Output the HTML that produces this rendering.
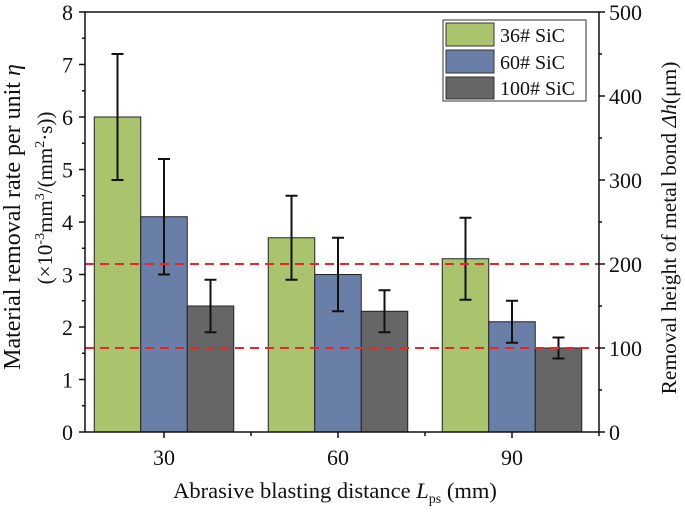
<!DOCTYPE html>
<html><head><meta charset="utf-8"><style>
body{margin:0;background:#fff}
svg text{font-family:"Liberation Serif",serif;fill:#111}
</style></head><body>
<svg id="c" width="685" height="508" xmlns="http://www.w3.org/2000/svg">
<g id="plot"></g>
<rect x="85" y="12" width="514" height="420" fill="none" stroke="#111" stroke-width="1.5"/>
<g>
<rect x="443" y="20" width="143" height="81" fill="#fff" stroke="#333" stroke-width="1"/>
<rect x="446" y="23" width="48" height="23" fill="#a9c46c" stroke="#333"/>
<text x="500" y="42" font-size="20">36# SiC</text>
<rect x="446" y="50" width="48" height="23" fill="#6a7fa8" stroke="#333"/>
<text x="500" y="69" font-size="20">60# SiC</text>
<rect x="446" y="77" width="48" height="22" fill="#666" stroke="#333"/>
<text x="500" y="95" font-size="20">100# SiC</text>
</g>
<text x="335" y="498" font-size="22.5" text-anchor="middle">Abrasive blasting distance <tspan font-style="italic">L</tspan><tspan font-size="14" dy="5">ps</tspan><tspan dy="-5"> (mm)</tspan></text>
<text transform="translate(20,217) rotate(-90)" font-size="24" text-anchor="middle">Material removal rate per unit <tspan font-style="italic">η</tspan></text>
<text transform="translate(52,198) rotate(-90)" font-size="21" text-anchor="middle">(×10<tspan font-size="14" dy="-8">-3</tspan><tspan dy="8">mm</tspan><tspan font-size="14" dy="-8">3</tspan><tspan dy="8">/(mm</tspan><tspan font-size="14" dy="-8">2</tspan><tspan dy="8">·s))</tspan></text>
<text transform="translate(676,228) rotate(-90)" font-size="21.5" text-anchor="middle">Removal height of metal bond <tspan font-style="italic">Δh</tspan>(μm)</text>
</svg>
<script>
const categories=["30","60","90"];
const series=["36# SiC","60# SiC","100# SiC"];
const colors=["#a9c46c","#6a7fa8","#666666"];
const vals36=[6.0,3.7,3.3];
const vals60=[4.1,3.0,2.1];
const vals100=[2.4,2.3,1.6];
const err36=[1.2,0.8,0.78];
const err60=[1.1,0.7,0.4];
const err100=[0.5,0.4,0.2];
const leftTicks=[0,1,2,3,4,5,6,7,8];
const rightTicks=[0,100,200,300,400,500];
const refLines=[200,100];
const NS="http://www.w3.org/2000/svg";
const g=document.getElementById('plot');
const X0=85,X1=599,Y0=432,Y1=12;
const y=v=>Y0-(v/8)*(Y0-Y1);
const y2=v=>Y0-(v/500)*(Y0-Y1);
const cx=i=>164+i*174;
const barW=46.5;
function el(t,a){const e=document.createElementNS(NS,t);for(const k in a)e.setAttribute(k,a[k]);g.appendChild(e);return e;}
const vals=[vals36,vals60,vals100],errs=[err36,err60,err100];
for(let s=0;s<3;s++)for(let i=0;i<categories.length;i++){
 const x=cx(i)+(s-1.5)*barW;
 const r=el('rect',{x:x,y:y(vals[s][i]),width:barW,height:Y0-y(vals[s][i]),fill:colors[s],stroke:'#222','stroke-width':1});
 
 
}
for(let s=0;s<3;s++)for(let i=0;i<categories.length;i++){
 const m=cx(i)+(s-1)*barW,v=vals[s][i],e=errs[s][i];
 const eb=el('path',{d:`M${m},${y(v+e)}V${y(v-e)}M${m-6},${y(v+e)}H${m+6}M${m-6},${y(v-e)}H${m+6}`,stroke:'#111','stroke-width':2,fill:'none'});
 
 
}
refLines.forEach(v=>{
 const l=el('line',{x1:X0,x2:X1,y1:y2(v),y2:y2(v),stroke:'#e8262a','stroke-width':2,'stroke-dasharray':'9,6'});
 
 
});
leftTicks.forEach(v=>{
 el('line',{x1:X0-6,x2:X0,y1:y(v),y2:y(v),stroke:'#111','stroke-width':1.5});
 if(v<8)el('line',{x1:X0-3,x2:X0,y1:y(v+0.5),y2:y(v+0.5),stroke:'#111','stroke-width':1.5});
 const t=el('text',{x:X0-12,y:y(v)+8,'font-size':22,'text-anchor':'end'});t.textContent=v;
 
 
});
rightTicks.forEach(v=>{
 el('line',{x1:X1,x2:X1+6,y1:y2(v),y2:y2(v),stroke:'#111','stroke-width':1.5});
 if(v<500)el('line',{x1:X1,x2:X1+3,y1:y2(v+50),y2:y2(v+50),stroke:'#111','stroke-width':1.5});
 const t=el('text',{x:X1+10,y:y2(v)+8,'font-size':22});t.textContent=v;
 
 
});
categories.forEach((c,i)=>{
 el('line',{x1:cx(i),x2:cx(i),y1:Y0,y2:Y0+6,stroke:'#111','stroke-width':1.5});
 el('line',{x1:cx(i)+87,x2:cx(i)+87,y1:Y0,y2:Y0+4,stroke:'#111','stroke-width':1.5});
 const t=el('text',{x:cx(i),y:Y0+33,'font-size':22,'text-anchor':'middle'});t.textContent=c;
 
 
});
</script>
</body></html>
